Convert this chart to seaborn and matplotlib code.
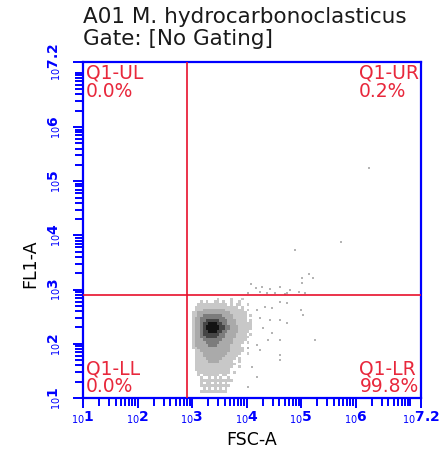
import numpy as np
import pandas as pd
import matplotlib
matplotlib.use("Agg")
import matplotlib.pyplot as plt
import seaborn as sns
from matplotlib.colors import ListedColormap, BoundaryNorm
from matplotlib.ticker import FixedLocator, FixedFormatter, NullFormatter

# ---------------- data ----------------
title_lines = ["A01 M. hydrocarbonoclasticus", "Gate: [No Gating]"]
x_label = "FSC-A"
y_label = "FL1-A"
axis_min_exp = 1.0
axis_max_exp = 7.2
tick_exps = [1, 2, 3, 4, 5, 6, 7.2]
tick_texts = ["1", "2", "3", "4", "5", "6", "7.2"]
quad_x_exp = 2.9
quad_y_exp = 2.9
quad_names = ["Q1-UL", "Q1-UR", "Q1-LL", "Q1-LR"]
quad_pcts = ["0.0%", "0.2%", "0.0%", "99.8%"]

# event density (grey level 0-5) on 0.05-decade log bins, rows from top (FL1 high) to bottom
grid_x0_exp = 2.95
grid_ytop_exp = 2.85
grid_step = 0.05
density_rows = [
    "..........1....1...1....",
    "....1.1..11.1..1..1.....",
    "...11111111111.1.11..1..",
    "..1111111111111111.1....",
    "..111222222221111111.1..",
    ".11222222222222111111...",
    ".11223333333222211111.1.",
    ".12233333333322211111...",
    ".12233444443332221111.1.",
    ".1223445554433222111111.",
    ".1223455555443322211111.",
    ".1223455555443322211111.",
    ".122344555443322221111..",
    ".12234444443322221111.1.",
    ".122334444333222211111..",
    ".12223333333222211111...",
    ".1222233333222221111.1..",
    ".122222333222221111.....",
    ".1122222222222211111.1..",
    "..112222222222211111....",
    "..11122222222211111..1..",
    "..1112222222211111......",
    "..111122222211111.1.....",
    "..11111222211111..1.....",
    "..111111111111111.......",
    "..11111111111111..1.....",
    "..1111111111111.........",
    "...111111111111.1.......",
    "...1.111111.11..........",
    "....1..1.1.1..1.........",
    "....111111111111........",
    "....1.11.1.1.1..........",
    "....11111111111.........",
    ".....1.1.1.1.1..........",
    "....1111111111..........",
    "........................",
]

# sparse events outside the main cloud (log10 of FSC-A, FL1-A)
outlier_x_exp = [6.25, 5.73, 4.89, 5.15, 5.22, 5.02, 5.02, 4.08, 4.17, 4.28, 4.43, 4.61,
                 4.80, 5.07, 4.03, 4.25, 4.38, 4.52, 4.74, 4.96, 4.71, 4.61, 4.74, 4.34,
                 4.47, 4.19, 5.00, 5.04, 4.25, 4.43, 4.61, 4.74, 4.30, 4.47, 4.61, 4.39,
                 5.26, 4.19, 4.25, 4.61, 4.61, 4.03, 4.10, 4.19, 4.03]
outlier_y_exp = [5.24, 3.88, 3.73, 3.29, 3.21, 3.21, 3.12, 3.10, 3.03, 3.05, 3.01, 3.05,
                 2.99, 2.94, 2.94, 2.96, 2.94, 2.94, 2.94, 2.96, 2.92, 2.77, 2.75, 2.68,
                 2.66, 2.62, 2.62, 2.53, 2.48, 2.44, 2.44, 2.38, 2.29, 2.20, 2.07, 2.07,
                 2.07, 1.98, 1.89, 1.79, 1.70, 1.92, 1.57, 1.39, 1.20]

grey_levels = ["#c8c8c8", "#aaaaaa", "#7c7c7c", "#464646", "#141414"]

# ---------------- style ----------------
sns.set_style("white")
plt.rcParams["font.family"] = ["DejaVu Sans"]
plt.rcParams["mathtext.fontset"] = "dejavusans"

BLUE = "#0000ff"
RED = "#e8102c"
RED_TXT = "#e8283c"

W, H = 440, 459
fig = plt.figure(figsize=(W / 100, H / 100), dpi=100)
ax = fig.add_axes([83 / W, 61 / H, 338 / W, 336 / H])
ax.set_xscale("log")
ax.set_yscale("log")
ax.set_xlim(10 ** axis_min_exp, 10 ** axis_max_exp)
ax.set_ylim(10 ** axis_min_exp, 10 ** axis_max_exp)

# density grid
ncols = 24
Z = np.zeros((len(density_rows), ncols))
for i, row in enumerate(density_rows):
    row = (row + "." * ncols)[:ncols]
    for j, ch in enumerate(row):
        Z[i, j] = 0 if ch == "." else int(ch)
Zm = np.ma.masked_equal(Z, 0)
xedges = 10 ** (grid_x0_exp + grid_step * np.arange(ncols + 1))
yedges = 10 ** (grid_ytop_exp - grid_step * np.arange(len(density_rows) + 1))
cmap = ListedColormap(grey_levels)
norm = BoundaryNorm([0.5, 1.5, 2.5, 3.5, 4.5, 5.5], cmap.N)
ax.pcolormesh(xedges, yedges, Zm, cmap=cmap, norm=norm, shading="flat", zorder=2)

# outlier events
df_out = pd.DataFrame({"FSC-A": 10 ** np.array(outlier_x_exp),
                       "FL1-A": 10 ** np.array(outlier_y_exp)})
sns.scatterplot(data=df_out, x="FSC-A", y="FL1-A", ax=ax, marker="s", s=4,
                color="#b4b4b4", linewidth=0, zorder=3)

# quadrant lines
ax.axvline(10 ** quad_x_exp, color=RED, lw=1.2, zorder=4)
ax.axhline(10 ** quad_y_exp, color=RED, lw=1.2, zorder=4)

# quadrant labels
qfs = 13.5
ax.text(0.008, 0.995, quad_names[0] + "\n" + quad_pcts[0], transform=ax.transAxes,
        ha="left", va="top", color=RED_TXT, fontsize=qfs, linespacing=0.95, zorder=5)
ax.text(0.993, 0.995, quad_names[1] + "\n" + quad_pcts[1], transform=ax.transAxes,
        ha="right", va="top", color=RED_TXT, fontsize=qfs, linespacing=0.95, zorder=5,
        multialignment="left")
ax.text(0.008, 0.005, quad_names[2] + "\n" + quad_pcts[2], transform=ax.transAxes,
        ha="left", va="bottom", color=RED_TXT, fontsize=qfs, linespacing=0.95, zorder=5)
ax.text(0.993, 0.005, quad_names[3] + "\n" + quad_pcts[3], transform=ax.transAxes,
        ha="right", va="bottom", color=RED_TXT, fontsize=qfs, linespacing=0.95, zorder=5,
        multialignment="left")

# spines
for sp in ax.spines.values():
    sp.set_color(BLUE)
    sp.set_linewidth(1.6)

# ticks
labels = [r"$_{10}$" + t for t in tick_texts]
major_vals = [10 ** e for e in tick_exps]
minor_vals = [m * 10 ** d for d in range(1, 7) for m in range(2, 10)] + [10 ** 7]
for axis in (ax.xaxis, ax.yaxis):
    axis.set_major_locator(FixedLocator(major_vals))
    axis.set_major_formatter(FixedFormatter(labels))
    axis.set_minor_locator(FixedLocator(minor_vals))
    axis.set_minor_formatter(NullFormatter())
ax.tick_params(which="both", direction="out", color=BLUE, labelcolor=BLUE, width=1.4,
               bottom=True, left=True, top=False, right=False)
ax.tick_params(which="major", length=7, labelsize=10)
ax.tick_params(which="minor", length=5.5)
ax.tick_params(axis="x", which="major", pad=1)
ax.tick_params(axis="y", which="major", pad=13)
for lab in ax.get_yticklabels():
    lab.set_rotation(90)
    lab.set_va("center")
    lab.set_ha("center")
for lab in ax.get_xticklabels() + ax.get_yticklabels():
    lab.set_fontweight("bold")

ax.set_xlabel(x_label, fontsize=12.5, color="black", labelpad=4)
ax.set_ylabel(y_label, fontsize=12.5, color="black")
ax.yaxis.set_label_coords(-0.13, 0.40)

# title
fig.text(83 / W, 1 - 7 / H, "\n".join(title_lines), ha="left", va="top",
         fontsize=15.5, color="#1a1a1a", linespacing=1.15)

fig.savefig("out.png", dpi=100)
